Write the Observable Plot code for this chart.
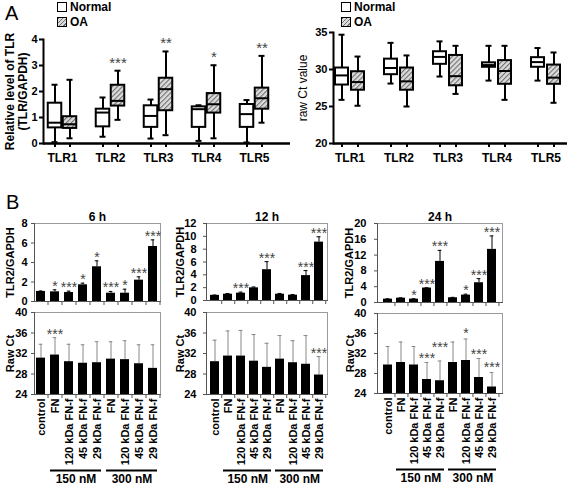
<!DOCTYPE html>
<html><head><meta charset="utf-8">
<script src="https://cdn.jsdelivr.net/npm/d3@7"></script>
<script src="https://cdn.jsdelivr.net/npm/@observablehq/plot@0.6"></script>
<style>
body{margin:0;background:#fff;font-family:"Liberation Sans",Arial,sans-serif;}
#root{position:relative;width:567px;height:486px;overflow:hidden;background:#fff;}
#root svg.p{position:absolute;overflow:visible;background:transparent;}
.letter{position:absolute;font-size:20px;line-height:20px;}
.leg{position:absolute;font-weight:bold;font-size:12px;line-height:15px;white-space:nowrap;}
.sw{display:inline-block;width:8px;height:8px;border:1px solid #000;vertical-align:-1px;margin-right:3px;background:#fff;}
.hatch{background:repeating-linear-gradient(135deg,#6f6f6f 0 1px,#dcdcdc 1px 3px);}
</style></head><body>
<svg width="0" height="0" style="position:absolute"><defs>
<pattern id="hatch" patternUnits="userSpaceOnUse" width="3.5" height="3.5" patternTransform="rotate(45)">
<rect width="3.5" height="3.5" fill="#dcdcdc"></rect><line x1="0.5" y1="0" x2="0.5" y2="3.5" stroke="#6f6f6f" stroke-width="1.2"></line>
</pattern></defs></svg>
<div id="root">
<div class="letter" style="left:5px;top:3px">A</div>
<div class="letter" style="left:6px;top:192px">B</div>
<div class="leg" style="left:57px;top:0px"><span class="sw"></span>Normal<br><span class="sw hatch"></span>OA</div>
<div class="leg" style="left:341px;top:0px"><span class="sw"></span>Normal<br><span class="sw hatch"></span>OA</div>
</div>
<script>
// ---------- Panel A data: [min, Q1, median, Q3, max] ----------
const tlrs = ["TLR1","TLR2","TLR3","TLR4","TLR5"];
const relNormal = [[0.05,0.6,0.8,1.55,2.26],[0.26,0.64,1.19,1.32,1.77],[0.19,0.62,1.06,1.45,1.69],[0.1,0.62,1.32,1.41,1.47],[0.04,0.62,1.13,1.5,1.67]];
const relOA = [[0.2,0.58,0.74,1.03,2.45],[0.91,1.44,1.64,2.24,2.8],[0.32,1.26,2.09,2.51,3.54],[0.2,1.17,1.51,1.92,3.01],[0.8,1.32,1.74,2.13,3.37]];
const relStars = ["","***","**","*","**"];
const ctNormal = [[25.9,27.9,29.2,30.2,34.7],[28.1,29.3,30.2,31.4,33.6],[29.05,30.7,31.7,32.4,33.8],[28.5,30.3,30.6,30.9,33.2],[28.5,30.3,31.0,31.6,32.9]];
const ctOA = [[25.1,27.2,28.3,29.7,31.75],[25.0,27.2,28.4,30.2,31.9],[26.7,27.8,29.1,31.9,33.2],[25.9,28.0,29.8,31.2,33.2],[25.5,28.0,28.9,30.6,32.3]];
const relTicks = [0,1,2,3,4];
const ctTicks = [20,25,30,35];

// ---------- Panel B data ----------
const treatments = ["control","FN","120 kDa FN-f","45 kDa FN-f","29 kDa FN-f","FN","120 kDa FN-f","45 kDa FN-f","29 kDa FN-f"];
const doseLabels = ["150 nM","300 nM"];
const doseFirst = [1,5];
const doseLast = [4,8];

const tlr2_6h = [1.03,0.99,0.92,1.71,3.56,0.85,0.85,2.19,5.64];
const tlr2_6h_top = [1.08,1.2,1.06,1.88,4.17,1.03,1.26,2.53,6.32];
const tlr2_6h_stars = ["","*","***","*","*","***","*","***","***"];
const ct_6h = [31.1,31.7,30.4,30.1,30.2,30.9,30.8,30.0,29.1];
const ct_6h_top = [33.8,35.1,33.8,33.7,34.3,34.3,34.5,33.7,33.7];
const ct_6h_stars = ["","***","","","","","","",""];

const tlr2_12h = [0.8,0.98,1.14,1.97,4.8,0.98,0.83,3.88,9.1];
const tlr2_12h_top = [0.85,1.09,1.3,2.1,6.05,1.1,0.93,4.66,9.93];
const tlr2_12h_stars = ["","","***","","***","","","***","***"];
const ct_12h = [30.4,31.5,31.5,30.5,29.3,30.9,30.2,29.9,27.8];
const ct_12h_top = [34.6,36.4,36.5,35.7,34.0,35.5,34.5,35.5,31.4];
const ct_12h_stars = ["","","","","","","","","***"];

const tlr2_24h = [0.85,1.1,0.85,3.66,10.4,1.2,1.87,5.0,13.45];
const tlr2_24h_top = [0.95,1.2,0.95,3.74,13.2,1.3,2.1,6.04,16.85];
const tlr2_24h_stars = ["","","*","***","***","","*","***","***"];
const ct_24h = [29.7,30.2,29.7,26.8,26.55,30.2,30.6,27.2,25.3];
const ct_24h_top = [33.4,34.3,33.4,30.2,30.5,34.3,34.9,31.0,28.2];
const ct_24h_stars = ["","","","***","***","","*","***","***"];
const ct_24h_starLevel = [null,null,null,31.85,33.9,null,36.75,32.6,29.9];

const FONT = "'Liberation Sans', Arial, sans-serif";
const root = document.getElementById("root");
function place(svg, left, top) {
  svg.classList.add("p");
  svg.style.left = left + "px";
  svg.style.top = top + "px";
  root.appendChild(svg);
}
const intFmt = d => String(d);

function boxPanel(p) {
  const step = (p.range[1] - p.range[0]) / tlrs.length;
  const marks = [];
  [[p.normal, -1, "#fff"], [p.oa, 1, "url(#hatch)"]].forEach(([ser, side, fill]) => {
    const rows = tlrs.map((t, i) => ({t, lo: ser[i][0], q1: ser[i][1], med: ser[i][2], q3: ser[i][3], hi: ser[i][4]}));
    const c = step / 2 + side * p.off;
    const boxIn = {insetLeft: c - p.boxW / 2, insetRight: step - c - p.boxW / 2};
    const capIn = {insetLeft: c - p.capW / 2, insetRight: step - c - p.capW / 2};
    marks.push(
      Plot.ruleX(rows, {x: "t", y1: "lo", y2: "hi", dx: side * p.off, strokeWidth: p.sw}),
      Plot.tickY(rows, {x: "t", y: "lo", ...capIn, strokeWidth: p.sw}),
      Plot.tickY(rows, {x: "t", y: "hi", ...capIn, strokeWidth: p.sw}),
      Plot.barY(rows, {x: "t", y1: "q1", y2: "q3", fill, stroke: "#000", strokeWidth: p.sw, ...boxIn}),
      Plot.tickY(rows, {x: "t", y: "med", ...boxIn, strokeWidth: p.sw})
    );
    if (p.stars && side === 1) {
      const srows = rows.map((r, i) => ({...r, s: p.stars[i]})).filter(r => r.s);
      marks.push(Plot.text(srows, {x: "t", y: "hi", text: "s", dx: p.off, dy: -3, lineAnchor: "bottom", fontSize: 15, fill: "#444"}));
    }
  });
  return Plot.plot({
    width: p.width, height: p.height,
    marginLeft: p.mL, marginRight: p.mR, marginTop: p.mT, marginBottom: p.mB,
    style: {fontFamily: FONT, fontSize: "11px", background: "transparent", overflow: "visible", color: "#000"},
    x: {type: "band", domain: tlrs, range: p.range, padding: 0, label: null},
    y: {domain: p.yDomain, label: null},
    marks: [
      Plot.axisY({ticks: p.yTicks, tickFormat: intFmt, tickSize: 4, tickPadding: 2, fontWeight: "bold", fontSize: 11, strokeWidth: 2, label: null}),
      Plot.axisX({tickSize: 0, tickPadding: 10, fontWeight: "bold", fontSize: 12, label: null}),
      Plot.axisX({tickSize: 4, tickFormat: () => "", dx: -p.off, strokeWidth: 2, label: null}),
      Plot.axisX({tickSize: 4, tickFormat: () => "", dx: p.off, strokeWidth: 2, label: null}),
      Plot.frame({anchor: "left", strokeWidth: 2}),
      Plot.ruleY([p.yDomain[0]], {strokeWidth: 2.5}),
      ...marks,
      Plot.text([p.ylabel], {frameAnchor: "left", textAnchor: "middle", rotate: -90, dx: -p.labelDx, fontSize: 12, fontWeight: p.labelWeight, lineHeight: 1.1})
    ]
  });
}

place(boxPanel({normal: relNormal, oa: relOA, stars: relStars, yDomain: [0, 4], yTicks: relTicks,
  width: 292, height: 135, mL: 43, mR: 2, mT: 9, mB: 22, range: [37.5, 277.5], off: 7.5, boxW: 13.5, capW: 6, sw: 2,
  ylabel: "Relative level of TLR\n(TLR/GAPDH)", labelDx: 27, labelWeight: "bold"}), 0, 30);

place(boxPanel({normal: ctNormal, oa: ctOA, stars: null, yDomain: [20, 35], yTicks: ctTicks,
  width: 277, height: 145, mL: 43, mR: 0, mT: 12, mB: 22, range: [34.5, 279.5], off: 8, boxW: 13, capW: 6, sw: 2,
  ylabel: "raw Ct value", labelDx: 31, labelWeight: "normal"}), 290, 20);

function barPanel(p) {
  const n = treatments.length;
  const rows = p.vals.map((v, i) => ({i, v, e: p.tops[i], s: p.stars[i], lo: p.yDomain[0], sy: p.starLevel ? p.starLevel[i] : null}));
  const step = (p.width - p.mL - p.mR) / n;
  const bw = step * 0.67;
  const capIn = (bw - 4) / 2;
  const starMark = p.starLevel
    ? Plot.text(rows.filter(d => d.s), {x: "i", y: "sy", text: "s", lineAnchor: "middle", dy: 4, fontSize: 14, fill: "#444"})
    : Plot.text(rows.filter(d => d.s), {x: "i", y: "e", text: "s", lineAnchor: "bottom", dy: 1, fontSize: 14, fill: "#444"});
  const marks = [
    Plot.frame({stroke: "#9a9a9a"}),
    Plot.ruleX(rows, {x: "i", y1: "v", y2: "e", stroke: p.errColor, strokeWidth: 1}),
    Plot.tickY(rows, {x: "i", y: "e", stroke: p.errColor, strokeWidth: 1, insetLeft: capIn, insetRight: capIn}),
    Plot.barY(rows, {x: "i", y1: "lo", y2: "v", fill: "#000"}),
    starMark,
    Plot.axisY({ticks: p.yTicks, tickFormat: intFmt, tickSize: 3, tickPadding: p.tickPad, fontWeight: "bold", fontSize: 11, stroke: "#555", label: null}),
    Plot.axisX({tickSize: 4, tickFormat: () => "", dx: step / 2, stroke: "#555", label: null}),
    Plot.frame({anchor: "left", stroke: "#555"}),
    Plot.frame({anchor: "bottom", stroke: "#555"}),
    Plot.text([p.ylabel], {frameAnchor: "left", textAnchor: "middle", rotate: -90, dx: -p.labelDx, fontWeight: "bold", fontSize: 11})
  ];
  if (p.title) marks.push(Plot.text([p.title], {frameAnchor: "top", dy: -11, fontWeight: "bold", fontSize: 12}));
  if (p.bottom) {
    const doses = doseLabels.map((g, k) => ({g, a: doseFirst[k], b: doseLast[k], m: doseFirst[k] + 1, lo: p.yDomain[0]}));
    marks.push(
      Plot.axisX({tickSize: 0, tickRotate: -90, tickPadding: 4, tickFormat: i => treatments[i], fontWeight: "bold", fontSize: 11, label: null}),
      Plot.ruleY(doses, {x1: "a", x2: "b", y: "lo", dy: 76, strokeWidth: 2, stroke: "#000"}),
      Plot.text(doses, {x: "m", y: "lo", text: "g", dx: step / 2, dy: 85, fontWeight: "bold", fontSize: 12})
    );
  }
  return Plot.plot({
    width: p.width, height: p.height,
    marginLeft: p.mL, marginRight: p.mR, marginTop: p.mT, marginBottom: p.mB,
    style: {fontFamily: FONT, fontSize: "11px", background: "transparent", overflow: "visible", color: "#000"},
    x: {type: "band", domain: d3.range(n), paddingInner: 0.33, paddingOuter: 0.165, label: null},
    y: {domain: p.yDomain, label: null},
    marks
  });
}

const topTicks6 = [0,2,4,6,8], topTicks12 = [0,2,4,6,8,10,12], topTicks24 = [0,4,8,12,16,20], ctTicksB = [24,28,32,36,40];

place(barPanel({vals: tlr2_6h, tops: tlr2_6h_top, stars: tlr2_6h_stars, yDomain: [0, 8], yTicks: topTicks6, title: "6 h",
  ylabel: "TLR2/GAPDH", errColor: "#000", width: 165, height: 110, mL: 34, mR: 5, mT: 23, mB: 9, tickPad: 4, labelDx: 24}), 0, 200);
place(barPanel({vals: ct_6h, tops: ct_6h_top, stars: ct_6h_stars, yDomain: [24, 40], yTicks: ctTicksB, bottom: true,
  ylabel: "Raw Ct", errColor: "#888", width: 165, height: 186, mL: 34, mR: 5, mT: 12, mB: 92, tickPad: 4, labelDx: 24}), 0, 300);

place(barPanel({vals: tlr2_12h, tops: tlr2_12h_top, stars: tlr2_12h_stars, yDomain: [0, 12], yTicks: topTicks12, title: "12 h",
  ylabel: "TLR2/GAPDH", errColor: "#000", width: 165, height: 110, mL: 36, mR: 8, mT: 23, mB: 10, tickPad: 7, labelDx: 26}), 170, 200);
place(barPanel({vals: ct_12h, tops: ct_12h_top, stars: ct_12h_stars, yDomain: [24, 40], yTicks: ctTicksB, bottom: true,
  ylabel: "Raw Ct", errColor: "#888", width: 165, height: 186, mL: 36, mR: 8, mT: 12, mB: 92, tickPad: 7, labelDx: 26}), 170, 300);

place(barPanel({vals: tlr2_24h, tops: tlr2_24h_top, stars: tlr2_24h_stars, yDomain: [0, 20], yTicks: topTicks24, title: "24 h",
  ylabel: "TLR2/GAPDH", errColor: "#000", width: 165, height: 110, mL: 37, mR: 3, mT: 23, mB: 8, tickPad: 8, labelDx: 28}), 340, 200);
place(barPanel({vals: ct_24h, tops: ct_24h_top, stars: ct_24h_stars, starLevel: ct_24h_starLevel, yDomain: [24, 40], yTicks: ctTicksB, bottom: true,
  ylabel: "Raw Ct", errColor: "#888", width: 165, height: 186, mL: 37, mR: 3, mT: 13, mB: 93, tickPad: 8, labelDx: 27}), 340, 300);
</script></body></html>
